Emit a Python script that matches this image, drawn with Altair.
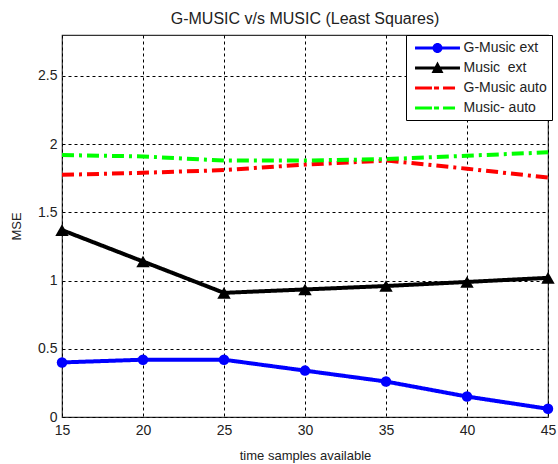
import altair as alt
import pandas as pd

x_vals = [15, 20, 25, 30, 35, 40, 45]
series_names = ["G-Music ext", "Music\u00a0 ext", "G-Music auto", "Music- auto"]
gmusic_ext = [0.40, 0.42, 0.42, 0.34, 0.26, 0.15, 0.06]
music_ext = [1.37, 1.14, 0.91, 0.935, 0.96, 0.99, 1.02]
gmusic_auto = [1.775, 1.79, 1.81, 1.85, 1.88, 1.82, 1.755]
music_auto = [1.92, 1.91, 1.88, 1.88, 1.89, 1.915, 1.94]
colors = ["#0000FF", "#000000", "#FF0000", "#00FF00"]

rows = []
for sid, (name, vals) in enumerate(zip(series_names, [gmusic_ext, music_ext, gmusic_auto, music_auto])):
    for xv, yv in zip(x_vals, vals):
        rows.append({"x": xv, "y": yv, "series": name, "sid": sid})
df = pd.DataFrame(rows)

FONT = "Liberation Sans"
TXT = "#222222"

sids = [0, 1, 2, 3]
line_color_scale = alt.Scale(domain=sids, range=colors)
dash_scale = alt.Scale(domain=sids, range=[[1, 0], [1, 0], [12, 5, 3, 5], [12, 5, 3, 5]])
color_scale = alt.Scale(domain=series_names, range=colors)

# legend glyphs (filled paths): line with marker / dash-dot line
bar = "M-2.81,-0.2H2.81V0.2H-2.81Z"
circ = bar + "M0.625,0A0.625,0.625,0,1,1,-0.625,0A0.625,0.625,0,1,1,0.625,0Z"
tri = bar + "M0,-0.81L0.75,0.625L-0.75,0.625Z"
dashdot = ("M-2.81,-0.2H-0.69V0.2H-2.81Z"
           "M-0.44,-0.2H0.19V0.2H-0.44Z"
           "M0.69,-0.2H2.19V0.2H0.69Z")
legend_shape_scale = alt.Scale(domain=series_names, range=[circ, tri, dashdot, dashdot])

legend = alt.Legend(
    title=None,
    orient="none",
    legendX=344,
    legendY=0,
    fillColor="white",
    strokeColor="black",
    padding=5,
    symbolSize=256,
    symbolStrokeWidth=0,
    symbolOffset=18.5,
    labelFont=FONT,
    labelFontSize=14,
    labelColor=TXT,
    labelExpr="datum.label + '\u00a0'",
    rowPadding=5,
    labelOffset=18,
    cornerRadius=0,
)

x_enc = alt.X(
    "x:Q",
    scale=alt.Scale(domain=[15, 45], nice=False),
    axis=alt.Axis(
        title="time samples available",
        values=x_vals,
        grid=True,
        gridColor="black",
        gridDash=[3, 3],
        gridWidth=1,
        ticks=False,
        domain=False,
        labelFlush=False,
        labelFont=FONT,
        labelFontSize=14,
        labelColor=TXT,
        labelPadding=6,
        titleFont=FONT,
        titleFontSize=13,
        titleFontWeight="normal",
        titleColor=TXT,
        titlePadding=12,
    ),
)
y_enc = alt.Y(
    "y:Q",
    scale=alt.Scale(domain=[0, 2.8], nice=False),
    axis=alt.Axis(
        title="MSE",
        values=[0, 0.5, 1, 1.5, 2, 2.5],
        format="~g",
        grid=True,
        gridColor="black",
        gridDash=[3, 3],
        gridWidth=1,
        ticks=False,
        domain=False,
        labelFlush=False,
        labelFont=FONT,
        labelFontSize=14,
        labelColor=TXT,
        labelPadding=5,
        titleFont=FONT,
        titleFontSize=13,
        titleFontWeight="normal",
        titleColor=TXT,
        titlePadding=14,
    ),
)

base = alt.Chart(df)

lines = base.mark_line(strokeWidth=4).encode(
    x=x_enc,
    y=y_enc,
    stroke=alt.Stroke("sid:N", scale=line_color_scale, legend=None),
    strokeDash=alt.StrokeDash("sid:N", scale=dash_scale, legend=None),
    detail="sid:N",
)

circles = base.mark_point(
    filled=True, size=110, opacity=1, shape="circle", color=colors[0]
).encode(x="x:Q", y="y:Q").transform_filter(alt.datum.sid == 0)

triangles = base.mark_point(
    filled=True, size=180, opacity=1, shape="triangle-up", color=colors[1]
).encode(x="x:Q", y="y:Q").transform_filter(alt.datum.sid == 1)

legend_layer = base.mark_point(filled=True, opacity=1).encode(
    x="x:Q",
    y="y:Q",
    color=alt.Color("series:N", scale=color_scale, legend=legend),
    shape=alt.Shape("series:N", scale=legend_shape_scale, legend=legend),
).transform_filter("false")

chart = (
    alt.layer(lines, circles, triangles, legend_layer)
    .properties(
        width=486,
        height=382,
        autosize=alt.AutoSizeParams(type="none"),
        padding={"left": 62, "top": 35, "right": 10, "bottom": 47},
        title=alt.TitleParams(
            "G-MUSIC v/s MUSIC (Least Squares)",
            font=FONT,
            fontSize=16,
            fontWeight="normal",
            color=TXT,
            offset=8,
        ),
        background="white",
    )
    .configure_view(stroke="#333333", strokeWidth=1.2)
)

chart.save("out.html", embed_options={"renderer": "svg", "actions": False})
